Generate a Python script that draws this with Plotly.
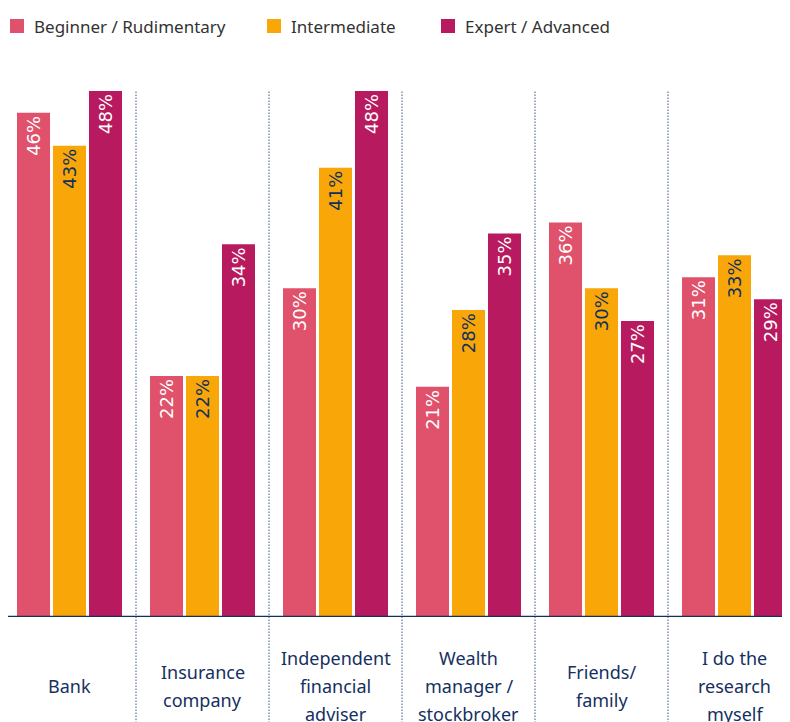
import plotly.graph_objects as go

categories = ["Bank", "Insurance<br>company", "Independent<br>financial<br>adviser",
              "Wealth<br>manager /<br>stockbroker", "Friends/<br>family",
              "I do the<br>research<br>myself"]
series_names = ["Beginner / Rudimentary", "Intermediate", "Expert / Advanced"]
beginner = [46, 22, 30, 21, 36, 31]
intermediate = [43, 22, 41, 28, 30, 33]
expert = [48, 34, 48, 35, 27, 29]

colors = ["#E0526B", "#F8A608", "#B81A5F"]
text_colors = ["#FFFFFF", "#12305F", "#FFFFFF"]
navy = "#15305F"
FONT = "Noto Sans"
LABEL_FONT = "DejaVu Sans"

W, H = 790, 722
OFF = 8  # page body offset of the figure in the screenshot
ml, mr, mt, mb = 0, 0, 52, 113
plot_w = W - ml - mr
plot_h = H - mt - mb
px_per_cat = 133
px_per_unit = 10.96
first_edge = 3 - OFF  # screen x of first group's left edge, in figure px


def fx(px):
    return (px - OFF - ml) / plot_w


def fy(py):
    return (mt + plot_h - (py - OFF)) / plot_h


fig = go.Figure()
for name, vals, c, tc in zip(series_names, [beginner, intermediate, expert], colors, text_colors):
    fig.add_trace(go.Bar(
        x=categories, y=vals, name=name, marker=dict(color=c, line=dict(width=0)),
        texttemplate="%{y}%", textposition="inside", insidetextanchor="end",
        textangle=-90, constraintext="none",
        textfont=dict(family=LABEL_FONT, size=18, color=tc),
        hoverinfo="skip", showlegend=False,
    ))

shapes = []
annotations = []
for i in range(len(categories) - 1):
    shapes.append(dict(type="line", xref="x", yref="paper", x0=i + 0.5, x1=i + 0.5,
                       y0=fy(H + 10), y1=fy(90),
                       line=dict(color="#7F90AE", width=1.5, dash="1.5px,1.5px"), layer="below"))
shapes.append(dict(type="line", xref="paper", yref="y", x0=0, x1=1, y0=0, y1=0,
                   line=dict(color=navy, width=2.5), layer="above"))

# category labels (centered block, 28px line spacing)
line_h = 28
for cat in categories:
    lines = cat.split("<br>")
    n = len(lines)
    for j, ln in enumerate(lines):
        annotations.append(dict(x=cat, xref="x", y=fy(686), yref="paper", text=ln,
                                yshift=-(j - (n - 1) / 2) * line_h,
                                showarrow=False, xanchor="center", yanchor="middle",
                                font=dict(family=FONT, size=18, color=navy)))

# legend (manual)
legend_x = [10, 267, 441]
for name, c, lx in zip(series_names, colors, legend_x):
    shapes.append(dict(type="rect", xref="paper", yref="paper",
                       x0=fx(lx), x1=fx(lx + 14), y0=fy(33), y1=fy(19),
                       fillcolor=c, line=dict(width=0)))
    annotations.append(dict(x=fx(lx + 22), xref="paper", y=fy(26), yref="paper", text=name,
                            showarrow=False, xanchor="left", yanchor="middle",
                            font=dict(family=FONT, size=17, color="#333333")))

fig.update_layout(
    width=W, height=H, margin=dict(l=ml, r=mr, t=mt, b=mb),
    paper_bgcolor="white", plot_bgcolor="white",
    barmode="group", bargap=0.188, bargroupgap=0.083,
    xaxis=dict(range=[-0.5 - first_edge / px_per_cat, -0.5 + (plot_w - first_edge) / px_per_cat],
               showticklabels=False, showgrid=False, zeroline=False, showline=False, ticks=""),
    yaxis=dict(range=[0, plot_h / px_per_unit], visible=False, showgrid=False, zeroline=False),
    showlegend=False,
    shapes=shapes, annotations=annotations,
    font=dict(family=FONT),
)

fig.write_html("out.html")
